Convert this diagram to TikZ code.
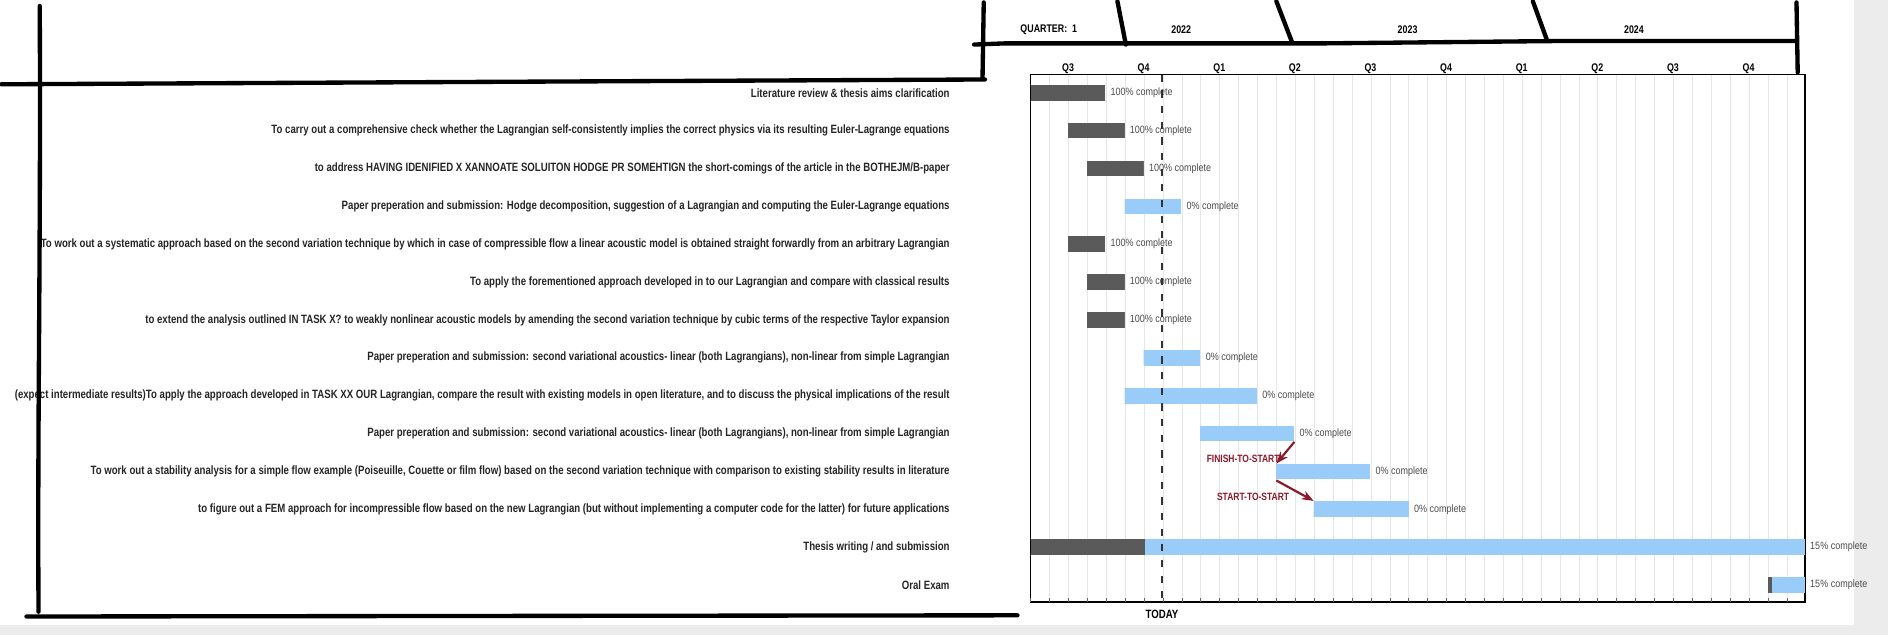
\documentclass[tikz,border=0pt]{standalone}
\usepackage{fontspec}
\setmainfont{Liberation Sans}
\usepackage{graphicx}
\usetikzlibrary{arrows.meta}
\definecolor{done}{HTML}{5A5A5A}
\definecolor{todo}{HTML}{99CCF9}
\definecolor{dep}{HTML}{8B1A2B}
\definecolor{gridc}{HTML}{E6E6E6}
\definecolor{pagebg}{HTML}{ECECEC}
\newcommand{\cnd}[1]{\scalebox{0.80}[1]{#1}}
\newcommand{\cnp}[1]{\scalebox{0.85}[1]{#1}}
\tikzset{
  lbl/.style={anchor=east,inner sep=0pt,font=\fontsize{5pt}{6pt}\selectfont\bfseries,text=black!85},
  pct/.style={anchor=west,inner sep=0pt,font=\fontsize{4.4pt}{5pt}\selectfont,text=black!70},
  hdr/.style={inner sep=0pt,font=\fontsize{4.6pt}{5pt}\selectfont\bfseries},
  pen/.style={line width=1.8pt,line cap=round,black},
  arr/.style={dep,line width=0.9pt,-{Stealth[length=5pt]}},
  deplbl/.style={inner sep=0pt,font=\fontsize{4.4pt}{5pt}\selectfont\bfseries,text=dep}
}
\begin{document}
\begin{tikzpicture}[x=0.5pt,y=-0.5pt]
\useasboundingbox (0,0) rectangle (1568,527);
\fill[white] (0,0) rectangle (1568,527);
\fill[pagebg] (1540,0) rectangle (1568,527);
\fill[pagebg] (0,519) rectangle (1568,527);
% grid
\foreach \i in {1,...,40}{\draw[gridc,line width=0.3pt] ({856+\i*15.7},62) -- ({856+\i*15.7},500);}
\draw[black,line width=0.5pt] (856,62) rectangle (1499,500);
\foreach \i in {0,...,40}{\draw[black!60,line width=0.3pt] ({856+\i*15.7},500) -- ({856+\i*15.7},497);}
% header
\node[hdr] (quarter) at (871,25) {\cnd{QUARTER:\ \ 1}};
\node[hdr] (y22) at (981,25) {\cnd{2022}};
\node[hdr] (y23) at (1169,25) {\cnd{2023}};
\node[hdr] (y24) at (1357,25) {\cnd{2024}};
\foreach \q [count=\k from 0] in {Q3,Q4,Q1,Q2,Q3,Q4,Q1,Q2,Q3,Q4}{
  \node[hdr] (q\k) at ({887+\k*62.8},57) {\cnd{\q}};}
% labels
\foreach \t [count=\r from 0] in {
 {Literature review \& thesis aims clarification},
 {To carry out a comprehensive check whether the Lagrangian self-consistently implies the correct physics via its resulting Euler-Lagrange equations},
 {to address HAVING IDENIFIED X XANNOATE SOLUITON HODGE PR SOMEHTIGN the short-comings of the article in the BOTHEJM/B-paper},
 {Paper preperation and submission: Hodge decomposition, suggestion of a Lagrangian and computing the Euler-Lagrange equations},
 {To work out a systematic approach based on the second variation technique by which in case of compressible flow a linear acoustic model is obtained straight forwardly from an arbitrary Lagrangian},
 {To apply the forementioned approach developed in to our Lagrangian and compare with classical results},
 {to extend the analysis outlined IN TASK X? to weakly nonlinear acoustic models by amending the second variation technique by cubic terms of the respective Taylor expansion},
 {Paper preperation and submission: second variational acoustics- linear (both Lagrangians), non-linear from simple Lagrangian},
 {(expect intermediate results)To apply the approach developed in TASK XX OUR Lagrangian, compare the result with existing models in open literature, and to discuss the physical implications of the result},
 {Paper preperation and submission: second variational acoustics- linear (both Lagrangians), non-linear from simple Lagrangian},
 {To work out a stability analysis for a simple flow example (Poiseuille, Couette or film flow) based on the second variation technique with comparison to existing stability results in literature},
 {to figure out a FEM approach for incompressible flow based on the new Lagrangian (but without implementing a computer code for the latter) for future applications},
 {Thesis writing / and submission},
 {Oral Exam}}{
  \node[lbl] (t\r) at (789,{77+\r*31.45}) {\cnd{\t}};}
% bars: row, start, split, end, text
\foreach \r/\a/\b/\c/\p in {0/856/918/918/100,1/887/934/934/100,2/903/950/950/100,3/934/934/981/0,
  4/887/918/918/100,5/903/934/934/100,6/903/934/934/100,7/950/950/997/0,8/934/934/1044/0,
  9/997/997/1075/0,10/1060/1060/1138/0,11/1091/1091/1170/0,12/856/951/1499/15,13/1468/1472/1499/15}{
  \pgfmathsetmacro{\yc}{77+\r*31.45}
  \fill[done] (\a,\yc-6.5) rectangle (\b,\yc+6.5);
  \fill[todo] (\b,\yc-6.5) rectangle (\c,\yc+6.5);
  \coordinate (s\r) at (\a,\yc);
  \coordinate (e\r) at (\c,\yc);
  \node[pct] (p\r) at (\c+4,\yc) {\cnp{\p\% complete}};}
% today
\draw[black!80,line width=0.6pt,dash pattern=on 3pt off 3.5pt] (965,62) -- (965,500);
\node[hdr,font=\fontsize{5pt}{6pt}\selectfont\bfseries] (today) at (965,510) {\cnd{TODAY}};
% dependencies
\coordinate (fs1) at (1075,367);
\coordinate (fs2) at (1060,385);
\draw[arr] (fs1) -- (fs2);
\node[deplbl,anchor=east] (fsl) at (1063,381) {\cnd{FINISH-TO-START}};
\coordinate (ss1) at (1060,399);
\coordinate (ss2) at (1091,416);
\draw[arr] (ss1) -- (ss2);
\node[deplbl,anchor=east] (ssl) at (1071,413) {\cnd{START-TO-START}};
% hand-drawn pen lines
\draw[pen] (33,5) .. controls (34,200) and (31,350) .. (32,508);
\draw[pen] (1,70) -- (400,68) -- (818,66);
\draw[pen] (22,512) -- (845,511);
\draw[pen] (817,2) -- (816,64);
\draw[pen] (809,37) -- (835,36) -- (1100,36) -- (1300,34) -- (1492,34);
\draw[pen] (928,1) -- (935,37);
\draw[pen] (1060,1) -- (1073,35);
\draw[pen] (1273,1) -- (1285,34);
\draw[pen] (1492,2) -- (1493,60);
\end{tikzpicture}
\end{document}
